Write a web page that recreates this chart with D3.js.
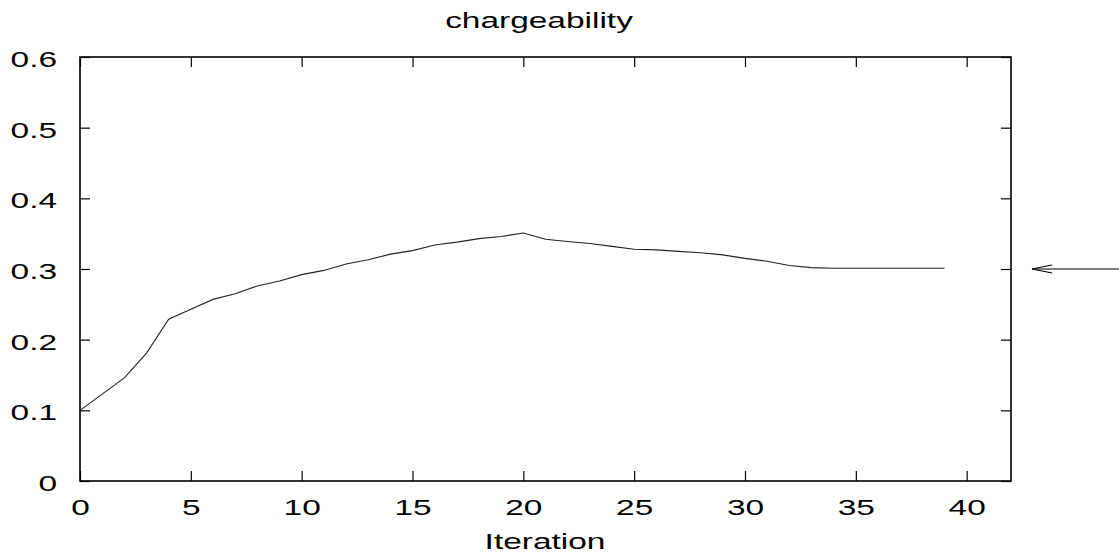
<!DOCTYPE html>
<html>
<head>
<meta charset="utf-8">
<script src="https://cdn.jsdelivr.net/npm/d3@7"></script>
<style>
  body { margin: 0; background: #fff; }
  svg { display: block; }
  text { font-family: "Liberation Sans", Arial, sans-serif; fill: #000; }
  .axis path { display: none; }
  .axis line { stroke: #000; stroke-width: 1.2; }
  .axis text { font-size: 22px; }
</style>
</head>
<body>
<svg id="chart"></svg>
<script>
// chargeability per iteration
const iterations = d3.range(0, 40);
const chargeability = [
  0.100, 0.123, 0.146, 0.181, 0.229, 0.243, 0.257, 0.265, 0.276, 0.283,
  0.292, 0.298, 0.307, 0.313, 0.321, 0.326, 0.334, 0.338, 0.343, 0.346,
  0.351, 0.342, 0.339, 0.336, 0.332, 0.328, 0.327, 0.325, 0.323, 0.320,
  0.315, 0.311, 0.305, 0.302, 0.301, 0.301, 0.301, 0.301, 0.301, 0.301
];
const xTicks = [0, 5, 10, 15, 20, 25, 30, 35, 40];
const yTicks = [0, 0.1, 0.2, 0.3, 0.4, 0.5, 0.6];
const targetValue = 0.3;

const width = 1119, height = 555;
const margin = {top: 57, right: 108, bottom: 74, left: 80};
const w = width - margin.left - margin.right;
const h = height - margin.top - margin.bottom;
const stretch = 1.52;   // the original font is wide, stretch text horizontally

const svg = d3.select('#chart')
    .attr('width', width)
    .attr('height', height);

const chart = svg.append('g')
    .attr('transform', `translate(${margin.left},${margin.top})`);

const x = d3.scaleLinear().domain([0, 42]).range([0, w]);
const y = d3.scaleLinear().domain([0, 0.6]).range([h, 0]);

const fmtY = d => d === 0 ? '0' : d3.format('.1f')(d);

// stretch axis labels but keep their anchor point
function widen(sel) {
  sel.selectAll('text').each(function() {
    const t = d3.select(this);
    const tx = +t.attr('x') || 0;
    t.attr('x', tx / stretch).attr('transform', `scale(${stretch},1)`);
  });
}

// left / bottom axes with labels, ticks pointing inward
chart.append('g')
    .attr('class', 'axis')
    .call(d3.axisLeft(y).tickValues(yTicks).tickSize(-10).tickPadding(23).tickFormat(fmtY))
    .call(widen)
    .selectAll('text').attr('dy', '0.43em');

chart.append('g')
    .attr('class', 'axis')
    .attr('transform', `translate(0,${h})`)
    .call(d3.axisBottom(x).tickValues(xTicks).tickSize(-10).tickPadding(18))
    .call(widen);

// mirrored ticks on top / right
chart.append('g')
    .attr('class', 'axis')
    .call(d3.axisTop(x).tickValues(xTicks).tickSize(-10).tickFormat(''));

chart.append('g')
    .attr('class', 'axis')
    .attr('transform', `translate(${w},0)`)
    .call(d3.axisRight(y).tickValues(yTicks).tickSize(-10).tickFormat(''));

// frame
chart.append('rect')
    .attr('width', w)
    .attr('height', h)
    .attr('fill', 'none')
    .attr('stroke', '#000')
    .attr('stroke-width', 1.6);

// data line
const line = d3.line()
    .x((d, i) => x(iterations[i]))
    .y(d => y(d));

chart.append('path')
    .datum(chargeability)
    .attr('fill', 'none')
    .attr('stroke', '#222')
    .attr('stroke-width', 1.1)
    .attr('d', line);

// target arrow on the right
const ay = y(targetValue);
const ax0 = w + 21;
const arrow = chart.append('g')
    .attr('stroke', '#000')
    .attr('stroke-width', 1.1)
    .attr('fill', 'none');
arrow.append('line')
    .attr('x1', ax0).attr('x2', width - margin.left)
    .attr('y1', ay).attr('y2', ay);
arrow.append('path')
    .attr('d', `M${ax0 + 20},${ay - 4}L${ax0},${ay}L${ax0 + 20},${ay + 4}`);

// titles
svg.append('text')
    .attr('transform', `translate(539,28) scale(${stretch},1)`)
    .attr('text-anchor', 'middle')
    .style('font-size', '22px')
    .text('chargeability');

svg.append('text')
    .attr('transform', `translate(545,549) scale(${stretch},1)`)
    .attr('text-anchor', 'middle')
    .style('font-size', '22px')
    .text('Iteration');
</script>
</body>
</html>
